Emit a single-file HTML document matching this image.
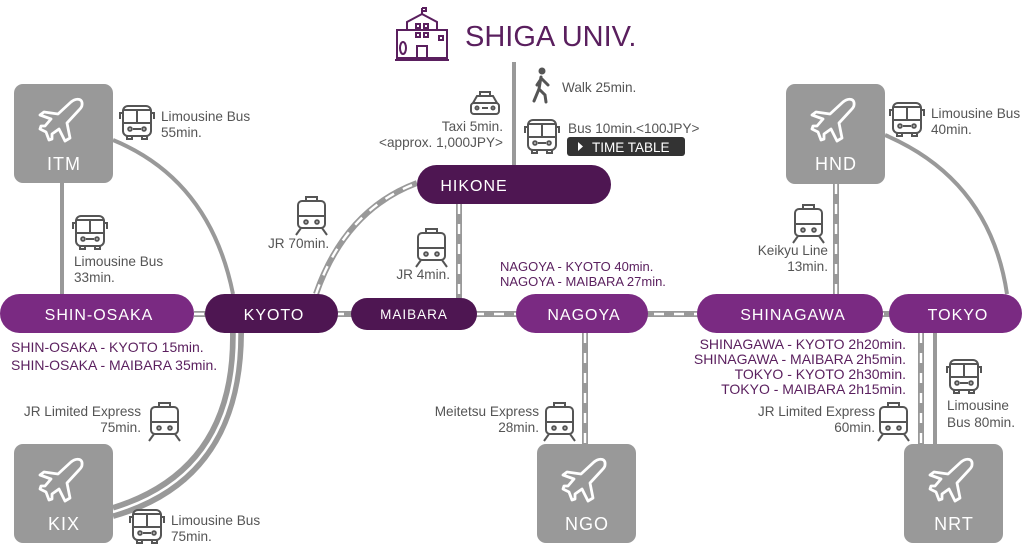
<!DOCTYPE html>
<html><head><meta charset="utf-8"><style>
html,body{margin:0;padding:0;background:#fff;}
svg{display:block;font-family:"Liberation Sans",Arial,sans-serif;}
.t{font-size:13.6px;fill:#555;}
.p{font-size:14px;fill:#5a1f5e;}
.st{font-size:16px;fill:#fff;letter-spacing:1px;text-anchor:middle;}
.ap{font-size:18px;fill:#fff;letter-spacing:1px;text-anchor:middle;}
.e{text-anchor:end;}
</style></head><body>
<svg width="1028" height="552" viewBox="0 0 1028 552">
<defs>
<g id="plane"><path d="M-19,-7 L-5,-5 L8,-17 C13,-21 20,-21 19,-14 C19,-12 17,-10 16,-9 L4,4 L7,19 L2,22 L-4,10 L-11,15 L-11,20 L-14,21 L-17,13 L-23,10 L-22,7 L-18,7 L-12,0 L-23,-4 Z" fill="none" stroke="#fff" stroke-width="2.8" stroke-linejoin="round"/></g>
<g id="bus" fill="none" stroke="#555" stroke-width="2"><rect x="3" y="1" width="28" height="30" rx="5"/><line x1="3" y1="18" x2="31" y2="18"/><line x1="17" y1="4" x2="17" y2="18"/><line x1="3" y1="5" x2="31" y2="5"/><path d="M3,8 H0 V14 M31,8 H34 V14"/><circle cx="10" cy="24" r="1.8"/><circle cx="24" cy="24" r="1.8"/><line x1="13" y1="24" x2="21" y2="24"/><rect x="7" y="31" width="5" height="3"/><rect x="22" y="31" width="5" height="3"/></g>
<g id="train" fill="none" stroke="#555" stroke-width="2"><rect x="4" y="5" width="27" height="27" rx="4"/><rect x="12" y="1" width="11" height="4"/><line x1="4" y1="20" x2="31" y2="20"/><circle cx="12" cy="26" r="1.8"/><circle cx="23" cy="26" r="1.8"/><line x1="7" y1="32" x2="2" y2="39"/><line x1="28" y1="32" x2="33" y2="39"/></g>
</defs>

<g fill="none" stroke="#999" stroke-width="4">
<line x1="62" y1="183" x2="62" y2="294"/>
<path d="M113,140 Q210,180 233,294"/>
<path d="M885,135 Q990,180 1007,294"/>
<line x1="514" y1="62" x2="514" y2="165"/>
<line x1="935" y1="333" x2="935" y2="444"/>
</g>
<g fill="none">
<g stroke="#999" stroke-width="6">
<line x1="194" y1="314" x2="890" y2="314"/>
<path d="M316,294 Q345,210 417,183"/>
<line x1="459" y1="204" x2="459" y2="298"/>
<line x1="585" y1="333" x2="585" y2="444"/>
<line x1="836" y1="184" x2="836" y2="294"/>
<line x1="921" y1="333" x2="921" y2="444"/>
<path d="M233,333 Q235,470 113,508"/>
<path d="M241,333 Q240,480 113,516"/>
</g>
<g stroke="#fff" stroke-width="2.4" stroke-dasharray="10 10">
<line x1="194" y1="314" x2="890" y2="314"/>
<path d="M316,294 Q345,210 417,183"/>
<line x1="459" y1="204" x2="459" y2="298"/>
<line x1="585" y1="333" x2="585" y2="444"/>
<line x1="836" y1="184" x2="836" y2="294"/>
<line x1="921" y1="333" x2="921" y2="444"/>
</g>
<path d="M237,333 Q238,475 113,512" stroke="#fff" stroke-width="2.5"/>
</g>

<g fill="none" stroke="#5a1f5e" stroke-width="2">
<rect x="397" y="30" width="50" height="28"/>
<path d="M407,30 V22 L422,14 L437,22 V30"/>
<line x1="422" y1="14" x2="422" y2="8"/><path d="M422,8 h4 v3 h-4" />
<rect x="416" y="24" width="4" height="4"/><rect x="424" y="24" width="4" height="4"/>
<rect x="416" y="33" width="4" height="4"/><rect x="424" y="33" width="4" height="4"/>
<rect x="439" y="36" width="4" height="4"/>
<path d="M417,58 V46 H427 V58"/>
<ellipse cx="403" cy="48" rx="3" ry="6"/>
<line x1="395" y1="60" x2="449" y2="60"/>
</g>
<text x="465" y="46" font-size="29" fill="#5a1f5e">SHIGA UNIV.</text>

<g fill="#999">
<rect x="14" y="84" width="99" height="99" rx="9"/>
<rect x="786" y="84" width="99" height="100" rx="9"/>
<rect x="14" y="444" width="99" height="99" rx="9"/>
<rect x="537" y="444" width="99" height="99" rx="9"/>
<rect x="904" y="444" width="99" height="99" rx="9"/>
</g>
<use href="#plane" x="63" y="119"/><text class="ap" x="64" y="170">ITM</text>
<use href="#plane" x="835" y="119"/><text class="ap" x="836" y="170">HND</text>
<use href="#plane" x="63" y="479"/><text class="ap" x="64" y="530">KIX</text>
<use href="#plane" x="586" y="479"/><text class="ap" x="587" y="530">NGO</text>
<use href="#plane" x="953" y="479"/><text class="ap" x="954" y="530">NRT</text>

<rect x="0" y="294" width="194" height="39" rx="19.5" fill="#7a2a82"/><text class="st" x="99" y="320">SHIN-OSAKA</text>
<rect x="205" y="294" width="133" height="39" rx="19.5" fill="#4e1652"/><text class="st" x="274" y="320">KYOTO</text>
<rect x="351" y="298" width="126" height="32" rx="16" fill="#4e1652"/><text class="st" x="414" y="319" style="font-size:13.5px">MAIBARA</text>
<rect x="516" y="294" width="132" height="39" rx="19.5" fill="#7a2a82"/><text class="st" x="584" y="320">NAGOYA</text>
<rect x="697" y="294" width="186" height="39" rx="19.5" fill="#7a2a82"/><text class="st" x="793" y="320">SHINAGAWA</text>
<rect x="889" y="294" width="133" height="39" rx="19.5" fill="#7a2a82"/><text class="st" x="958" y="320">TOKYO</text>
<rect x="417" y="165" width="194" height="39" rx="19.5" fill="#4e1652"/><text class="st" x="474" y="191">HIKONE</text>

<use href="#bus" x="120" y="105"/>
<use href="#bus" x="73" y="215"/>
<use href="#bus" x="890" y="102"/>
<use href="#bus" x="525" y="119"/>
<use href="#bus" x="130" y="509"/>
<use href="#bus" x="947" y="359"/>
<use href="#train" x="294" y="196"/>
<use href="#train" x="414" y="228"/>
<use href="#train" x="791" y="204"/>
<use href="#train" x="147" y="402"/>
<use href="#train" x="542" y="402"/>
<use href="#train" x="876" y="402"/>
<g fill="none" stroke="#555" stroke-width="2"><path d="M477,96 h16 M480,96 v-4 h10 v4"/><path d="M473,103 L477,96 H493 L497,103"/><rect x="471" y="103" width="28" height="11" rx="3"/><circle cx="477" cy="108" r="1.5"/><circle cx="493" cy="108" r="1.5"/><line x1="482" y1="108" x2="488" y2="108"/></g>
<g fill="#555"><circle cx="542" cy="71" r="3.5"/></g>
<g fill="none" stroke="#555" stroke-width="3" stroke-linecap="round"><path d="M541,77 L539,89 L534,101 M539,89 L545,95 L546,102 M541,79 L537,85 M542,79 L548,85"/></g>

<text class="t" x="161" y="121">Limousine Bus</text><text class="t" x="161" y="137">55min.</text>
<text class="t" x="74" y="266">Limousine Bus</text><text class="t" x="74" y="282">33min.</text>
<text class="t" x="268" y="248">JR 70min.</text>
<text class="t e" x="503" y="131">Taxi 5min.</text><text class="t e" x="503" y="147">&lt;approx. 1,000JPY&gt;</text>
<text class="t" x="562" y="92">Walk 25min.</text>
<text class="t" x="568" y="133">Bus 10min.&lt;100JPY&gt;</text>
<rect x="567" y="137" width="118" height="19" rx="3" fill="#333"/>
<path d="M578,142 L583,146.5 L578,151 Z" fill="#fff"/>
<text x="592" y="152" font-size="13.5" fill="#fff">TIME TABLE</text>
<text class="t e" x="450" y="279">JR 4min.</text>
<text class="p" x="500" y="271" style="font-size:13px">NAGOYA - KYOTO 40min.</text><text class="p" x="500" y="286" style="font-size:13px">NAGOYA - MAIBARA 27min.</text>
<text class="t" x="931" y="118">Limousine Bus</text><text class="t" x="931" y="134">40min.</text>
<text class="t e" x="828" y="255">Keikyu Line</text><text class="t e" x="828" y="271">13min.</text>
<text class="p" x="11" y="352">SHIN-OSAKA - KYOTO 15min.</text><text class="p" x="11" y="370">SHIN-OSAKA - MAIBARA 35min.</text>
<text class="t e" x="141" y="416">JR Limited Express</text><text class="t e" x="141" y="432">75min.</text>
<text class="t" x="171" y="525">Limousine Bus</text><text class="t" x="171" y="541">75min.</text>
<text class="t e" x="539" y="416">Meitetsu Express</text><text class="t e" x="539" y="432">28min.</text>
<text class="p e" x="906" y="349">SHINAGAWA - KYOTO 2h20min.</text>
<text class="p e" x="906" y="364">SHINAGAWA - MAIBARA 2h5min.</text>
<text class="p e" x="906" y="379">TOKYO - KYOTO 2h30min.</text>
<text class="p e" x="906" y="394">TOKYO - MAIBARA 2h15min.</text>
<text class="t e" x="875" y="416">JR Limited Express</text><text class="t e" x="875" y="432">60min.</text>
<text class="t" x="947" y="410">Limousine</text><text class="t" x="947" y="427">Bus 80min.</text>
</svg>
</body></html>
